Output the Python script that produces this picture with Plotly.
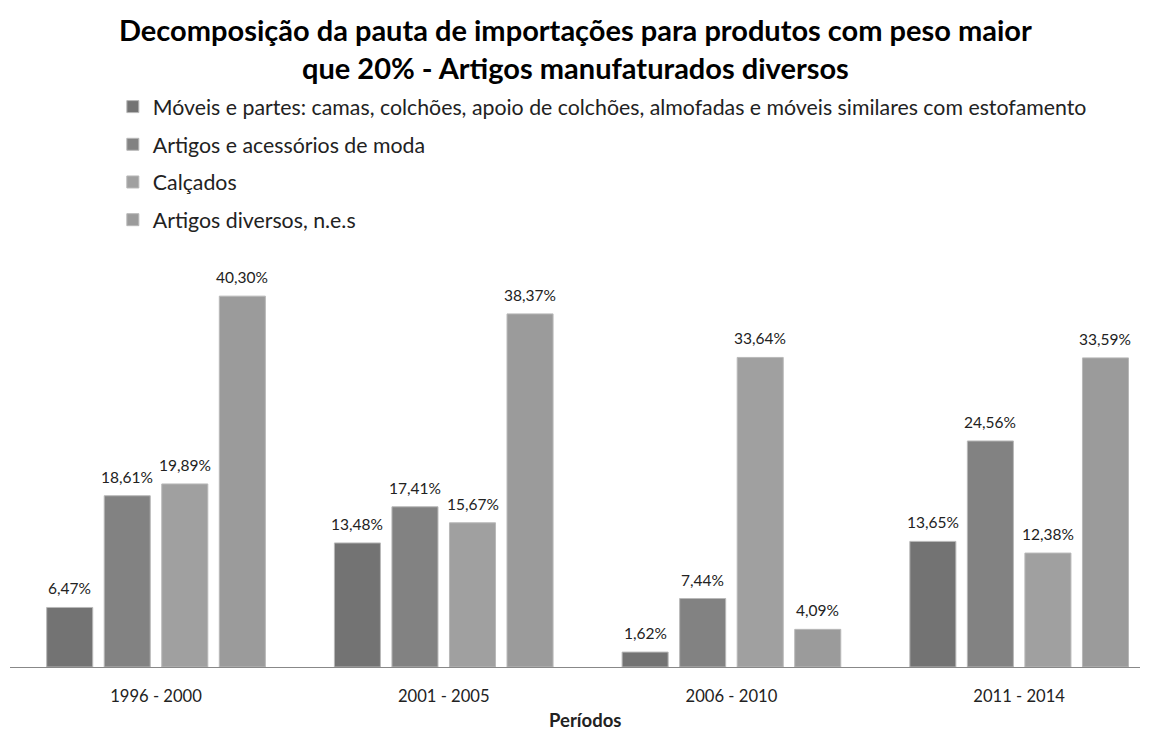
import plotly.graph_objects as go

periods = ["1996 - 2000", "2001 - 2005", "2006 - 2010", "2011 - 2014"]
series_names = [
    "Móveis e partes: camas, colchões, apoio de colchões, almofadas e móveis similares com estofamento",
    "Artigos e acessórios de moda",
    "Calçados",
    "Artigos diversos, n.e.s",
]
moveis = [6.47, 13.48, 1.62, 13.65]
moda = [18.61, 17.41, 7.44, 24.56]
calcados = [19.89, 15.67, 33.64, 12.38]
diversos = [40.30, 38.37, 4.09, 33.59]
values = [moveis, moda, calcados, diversos]
colors = ["#737373", "#828282", "#a0a0a0", "#9b9b9b"]
title_lines = ["Decomposição da pauta de importações para produtos com peso maior",
               "que 20% - Artigos manufaturados diversos"]
x_title = "Períodos"

FONT = "Lato"
W, H = 1150, 731
ML, MR, MT, MB = 10, 10, 240, 64
PH = H - MT - MB
BARGAP, GROUPGAP = 0.2, 0.2
NS = len(values)


def py(y_px):
    return (H - MB - y_px) / PH


fig = go.Figure()
for i, (name, vals, col) in enumerate(zip(series_names, values, colors)):
    fig.add_trace(go.Bar(
        x=periods, y=vals, name=name,
        marker=dict(color=col, line=dict(color="#b8b8b8", width=1)),
        legendgroup=f"g{i}",
    ))

annotations = []
slot = (1 - BARGAP) / NS
for s, vals in enumerate(values):
    off = (s - (NS - 1) / 2) * slot
    for c, v in enumerate(vals):
        annotations.append(dict(
            text=f"{v:.2f}%".replace(".", ","), x=c + off, xref="x", y=v, yref="y",
            xanchor="center", yanchor="bottom", yshift=8, showarrow=False,
            font=dict(family=FONT, size=15.5, color="#222222"),
        ))
for txt, ypx in zip(title_lines, [30, 67]):
    annotations.append(dict(
        text=f"<b>{txt}</b>", x=0.5, xref="paper", y=py(ypx), yref="paper",
        xanchor="center", yanchor="middle", showarrow=False,
        font=dict(family=FONT, size=29, color="black"),
    ))
annotations.append(dict(
    text=f"<b>{x_title}</b>", x=(585 - ML) / (W - ML - MR), xref="paper", y=py(720), yref="paper",
    xanchor="center", yanchor="middle", showarrow=False,
    font=dict(family=FONT, size=18.5, color="#222222"),
))

fig.update_layout(
    width=W, height=H,
    paper_bgcolor="white", plot_bgcolor="white",
    margin=dict(l=ML, r=MR, t=MT, b=MB, autoexpand=False),
    barmode="group", bargap=BARGAP, bargroupgap=GROUPGAP,
    annotations=annotations,
    legend=dict(
        orientation="v", x=0.091, xanchor="left", y=0.882, yref="container", yanchor="top",
        font=dict(family=FONT, size=21.3, color="#222222"),
        tracegroupgap=7, itemwidth=30,
        bgcolor="rgba(0,0,0,0)",
    ),
    showlegend=True,
)
fig.update_xaxes(
    range=[-0.5075, 3.42],
    showline=True, linecolor="#888888", linewidth=1,
    ticks="", tickfont=dict(family=FONT, size=16.6, color="#222222"),
    ticklabelstandoff=14,
)
fig.update_yaxes(range=[0, 46.4], visible=False, showgrid=False)

fig.write_html("out.html")
